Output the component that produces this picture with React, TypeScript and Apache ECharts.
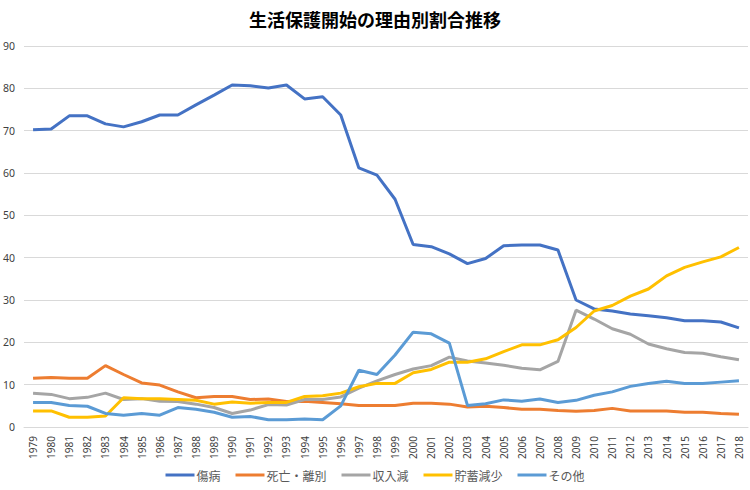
import React, { useEffect, useRef } from "react";
import * as echarts from "echarts";

const years = [
  "1979","1980","1981","1982","1983","1984","1985","1986","1987","1988",
  "1989","1990","1991","1992","1993","1994","1995","1996","1997","1998",
  "1999","2000","2001","2002","2003","2004","2005","2006","2007","2008",
  "2009","2010","2011","2012","2013","2014","2015","2016","2017","2018",
];

const illness = [
  70.2, 70.4, 73.5, 73.5, 71.6, 70.9, 72.1, 73.7, 73.7, 76.1,
  78.4, 80.8, 80.6, 80.1, 80.8, 77.5, 78.0, 73.7, 61.2, 59.5,
  53.8, 43.1, 42.6, 40.9, 38.6, 39.8, 42.8, 43.0, 43.0, 41.8,
  30.0, 27.9, 27.4, 26.7, 26.3, 25.8, 25.1, 25.1, 24.8, 23.4,
];

const deathSeparation = [
  11.5, 11.7, 11.5, 11.5, 14.5, 12.4, 10.4, 9.9, 8.3, 6.9,
  7.2, 7.2, 6.5, 6.6, 6.0, 6.1, 5.8, 5.5, 5.1, 5.1,
  5.1, 5.6, 5.6, 5.4, 4.7, 4.9, 4.6, 4.2, 4.2, 3.9,
  3.7, 3.9, 4.4, 3.8, 3.8, 3.8, 3.5, 3.5, 3.2, 3.0,
];

const incomeDecrease = [
  8.0, 7.7, 6.7, 7.0, 8.0, 6.5, 6.7, 6.1, 6.0, 5.4,
  4.6, 3.2, 4.0, 5.3, 5.2, 6.5, 6.5, 7.1, 9.2, 10.9,
  12.4, 13.7, 14.5, 16.5, 15.6, 15.1, 14.6, 13.9, 13.5, 15.5,
  27.6, 25.5, 23.2, 21.9, 19.6, 18.5, 17.6, 17.4, 16.6, 15.9,
];

const savingsDecrease = [
  3.8, 3.8, 2.3, 2.3, 2.6, 6.9, 6.7, 6.7, 6.5, 6.3,
  5.4, 5.9, 5.6, 5.8, 5.8, 7.2, 7.4, 8.0, 9.5, 10.3,
  10.3, 12.8, 13.6, 15.3, 15.3, 16.1, 17.8, 19.4, 19.4, 20.6,
  23.5, 27.4, 28.7, 30.9, 32.6, 35.7, 37.7, 39.0, 40.2, 42.4,
];

const others = [
  5.8, 5.8, 5.1, 4.9, 3.2, 2.8, 3.2, 2.8, 4.6, 4.2,
  3.5, 2.3, 2.5, 1.7, 1.7, 1.9, 1.7, 5.0, 13.4, 12.4,
  17.0, 22.4, 22.0, 19.8, 5.1, 5.5, 6.4, 6.1, 6.6, 5.8,
  6.3, 7.5, 8.3, 9.6, 10.3, 10.8, 10.3, 10.3, 10.6, 10.9,
];

const seriesNames = ["傷病", "死亡・離別", "収入減", "貯蓄減少", "その他"];
const seriesColors = ["#4472C4", "#ED7D31", "#A5A5A5", "#FFC000", "#5B9BD5"];
const seriesData = [illness, deathSeparation, incomeDecrease, savingsDecrease, others];

const FONT = "'Noto Sans CJK JP', 'Noto Sans', sans-serif";
const NUM_FONT = "'Noto Sans', 'Liberation Sans', sans-serif";

export default function App() {
  const ref = useRef<HTMLDivElement>(null);

  useEffect(() => {
    if (!ref.current) return;
    const chart = echarts.init(ref.current, undefined, { renderer: "svg" });
    chart.setOption({
      animation: false,
      backgroundColor: "#ffffff",
      color: seriesColors,
      title: {
        text: "生活保護開始の理由別割合推移",
        left: "center",
        top: 5,
        textStyle: { fontFamily: FONT, fontSize: 18, fontWeight: "bold", color: "#000000" },
      },
      legend: {
        bottom: 4,
        left: "center",
        itemWidth: 29,
        itemHeight: 3,
        itemGap: 15,
        textStyle: {
          fontFamily: FONT,
          fontSize: 12,
          color: "#595959",
          padding: [0, 0, 0, -3],
        },
        data: seriesNames.map((n) => ({ name: n, icon: "rect" })),
      },
      grid: { left: 23, right: 2, top: 46, bottom: 63, containLabel: false },
      xAxis: {
        type: "category",
        data: years,
        boundaryGap: true,
        axisLine: { lineStyle: { color: "#D9D9D9", width: 1 } },
        axisTick: { show: false },
        axisLabel: {
          rotate: 90,
          interval: 0,
          margin: 9,
          fontFamily: NUM_FONT,
          fontSize: 10,
          color: "#404040",
        },
      },
      yAxis: {
        type: "value",
        min: 0,
        max: 90,
        interval: 10,
        axisLine: { show: false },
        axisTick: { show: false },
        splitLine: { lineStyle: { color: "#D9D9D9", width: 1 } },
        axisLabel: { fontFamily: NUM_FONT, fontSize: 10.5, color: "#404040", margin: 9 },
      },
      series: seriesNames.map((name, i) => ({
        name,
        type: "line",
        data: seriesData[i],
        symbol: "none",
        lineStyle: { width: 3, color: seriesColors[i] },
        itemStyle: { color: seriesColors[i] },
      })),
    });
    return () => chart.dispose();
  }, []);

  return (
    <div
      ref={ref}
      style={{ position: "absolute", left: 0, top: 0, width: 750, height: 490 }}
    />
  );
}
